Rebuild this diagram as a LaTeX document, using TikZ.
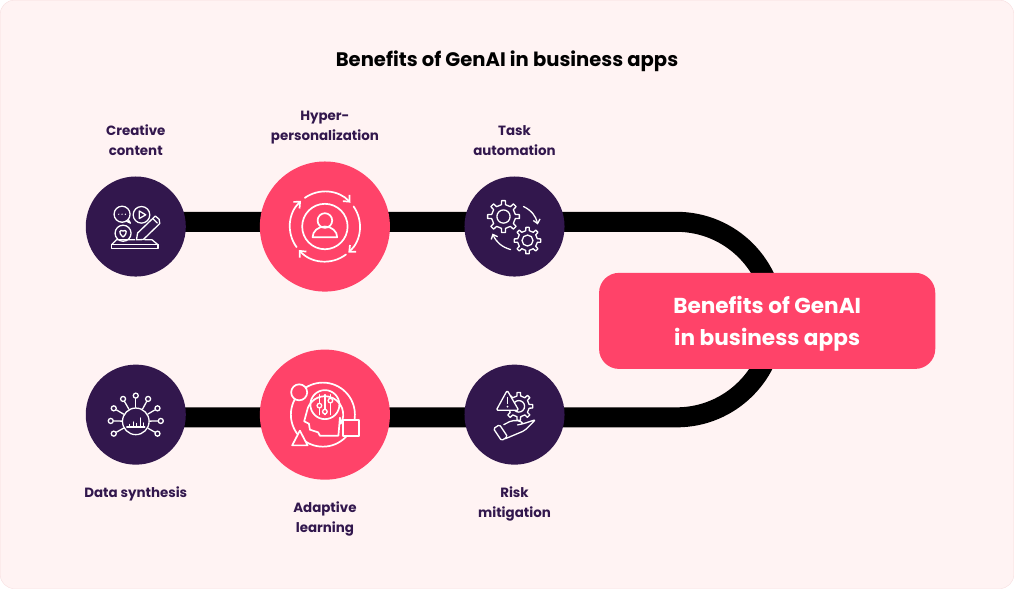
\documentclass[tikz,border=0pt]{standalone}
\usepackage{fontspec}
\setmainfont{Poppins}
\usepackage{xcolor}
\usetikzlibrary{positioning, arrows.meta, backgrounds, calc}
\definecolor{paper}{HTML}{FFF3F3}
\definecolor{paperedge}{HTML}{F7DEDF}
\definecolor{plum}{HTML}{32174D}
\definecolor{coral}{HTML}{FF4369}
\newcommand{\cogicon}[5]{% centre x, centre y, outer, inner, hole
  \draw[iconline, fill=#5] ($(#1,#2)+(-10:#4)$)
    foreach \k in {0,...,7}{
      -- ($(#1,#2)+(\k*45-10:#4)$) -- ($(#1,#2)+(\k*45-7:#3)$)
      -- ($(#1,#2)+(\k*45+7:#3)$) -- ($(#1,#2)+(\k*45+10:#4)$)
    } -- cycle;
  \draw[iconline] (#1,#2) circle (#4*0.55);
}
\begin{document}
\begin{tikzpicture}[
  x=1pt, y=1pt,
  smallhub/.style={circle, fill=plum, minimum size=100pt, inner sep=0pt, outer sep=0pt},
  bighub/.style={circle, fill=coral, minimum size=130pt, inner sep=0pt, outer sep=0pt},
  track/.style={line width=20pt, black},
  caption/.style={font=\fontsize{13.4}{20}\selectfont\bfseries, text=plum, align=center, inner sep=0pt},
  iconline/.style={draw=white, line width=1.3pt, line join=round, line cap=round},
  boldline/.style={iconline, line width=1.7pt},
  iconarrow/.style={iconline, -{Straight Barb[length=4pt, width=7pt]}},
  boldarrow/.style={boldline, -{Straight Barb[length=5pt, width=9pt]}},
  satellite/.style={circle, draw=white, line width=1.3pt, minimum size=5pt, inner sep=0pt}
]
% hubs
\node[smallhub] (creative) at (136,362.3) {};
\node[bighub, right=74pt of creative] (hyper) {};
\node[smallhub, right=74.5pt of hyper] (task) {};
\node[smallhub, below=88pt of creative] (synth) {};
\node[bighub, right=74pt of synth] (adaptive) {};
\node[smallhub, right=74.5pt of adaptive] (risk) {};
\node[fill=coral, rounded corners=20pt, minimum width=336pt, minimum height=96pt, inner sep=0pt,
  font=\fontsize{21.6}{32}\selectfont\bfseries, text=white, align=center] (benefits) at (767,268)
  {\rule{0pt}{23pt}Benefits of GenAI\\in business apps};

% tracks
\begin{scope}[on background layer]
\fill[paper, draw=paperedge, rounded corners=14pt] (0.5,0.5) rectangle (1013.5,588.5);
\draw[track] ([yshift=4.7pt]creative.center) -- ([yshift=4.7pt]task.center) -- ++(162,0)
  arc (90:-90:97.7pt) -- ([yshift=-2.7pt]synth.center);
\end{scope}

% labels
\node[font=\fontsize{19.55}{24}\selectfont\bfseries, inner sep=0pt] (title) at (507,527) {Benefits of GenAI in business apps};
\node[caption, above=21pt of creative] (creativetext) {Creative\\content};
\node[caption, above=17.5pt of hyper] (hypertext) {Hyper-\\personalization};
\node[caption, above=21pt of task] (tasktext) {Task\\automation};
\node[caption, below=22pt of synth] (synthtext) {Data synthesis};
\node[caption, below=22pt of adaptive] (adaptivetext) {Adaptive\\learning};
\node[caption, below=22pt of risk] (risktext) {Risk\\mitigation};

% creative content icon
\begin{scope}[shift={(creative.center)}]
\draw[iconline] (-13.7,12.3) circle (8);
\draw[iconline] (-7.5,7) -- (-5.3,3.3) -- (-9.5,5.5);
\fill[white] (-17,12.3) circle (0.7) (-13.7,12.3) circle (0.7) (-10.4,12.3) circle (0.7);
\draw[iconline] (5.7,11.7) circle (8.3);
\draw[iconline] (3.5,15.5) -- (10,11.7) -- (3.5,8) -- cycle;
\draw[iconline] (-12.7,-6.7) circle (8);
\draw[iconline] (-12.7,-10.5) .. controls (-18,-6) and (-16,-2.5) .. (-12.7,-4.5) .. controls (-9.5,-2.5) and (-7.5,-6) .. (-12.7,-10.5);
\draw[iconline] (0.7,-13.3) -- (1.8,-6.5) -- (19.5,10.5) -- (23.3,7.3) -- (24,3) -- (7.5,-13) -- cycle;
\draw[iconline] (17,8) -- (21.5,3.5);
\draw[iconline] (-24.3,-18.3) rectangle (22.3,-21.7);
\draw[iconline] (-24.3,-18.3) -- (-19.3,-13.3) -- (-1,-13.3);
\draw[iconline] (9,-13.3) -- (16.3,-13.3) -- (22.3,-18.3);
\end{scope}

% personalization icon
\begin{scope}[shift={(hyper.center)}]
\draw[boldline] (0,0) circle (22.7);
\draw[boldline] (0,6) circle (7.3);
\draw[boldline] (-12.3,-10.7) arc (180:0:12.3 and 10.7) -- cycle;
\draw[boldarrow] (125:35) arc (125:43:35pt);
\draw[boldarrow] (35:35) arc (35:-48:35pt);
\draw[boldarrow] (-53:35) arc (-53:-138:35pt);
\draw[boldarrow] (-144:35) arc (-144:-227:35pt);
\end{scope}

% automation icon
\begin{scope}[shift={(task.center)}]
\cogicon{-11}{10}{16}{12}{plum}
\cogicon{13}{-14}{13.3}{10}{plum}
\draw[iconarrow] (9,20) to[bend left=25] (23.3,2);
\draw[iconarrow] (-4,-23) to[bend left=25] (-22,-7);
\end{scope}

% synthesis icon
\begin{scope}[shift={(synth.center)}]
\node[circle, draw=white, line width=1.3pt, minimum size=26.6pt, inner sep=0pt] (synthcore) at (0,-6.7) {};
\foreach \i/\p in {1/{0,19},2/{-12.7,15.7},3/{12.3,15.7},4/{-22,6.3},5/{21.7,6.3},6/{-25,-6.3},7/{25,-6.3},8/{-22,-19},9/{21.7,-19}}{
  \node[satellite] (sat\i) at (\p) {};
  \draw[iconline] (synthcore) -- (sat\i);
}
\draw[iconline] (-9,-12.3) -- (9,-12.3);
\draw[iconline] (-6,-12.3) -- ++(0,2.5) (-2.5,-12.3) -- ++(0,5) (1,-12.3) -- ++(0,3.5) (4.5,-12.3) -- ++(0,9) (8,-12.3) -- ++(0,4);
\end{scope}

% learning icon
\begin{scope}[shift={(adaptive.center)}]
\draw[boldline] (-2,0) circle (32);
\draw[boldline, fill=coral] (-25.7,22.3) circle (8);
\draw[boldline, fill=coral] (18.3,-21) rectangle (34.3,-5.7);
\draw[boldline, fill=coral] (-25,-16) -- (-32.7,-30.7) -- (-17.3,-30.7) -- cycle;
\draw[boldline] (13.5,-21) -- (-5,-21) -- (-6.7,-17.7) -- (-15,-15) -- (-16,-9)
  -- (-20.7,-6.7) -- (-18,3.3) arc (170:-30:18.3pt) -- (15,-3) -- cycle;
\draw[boldline] (0,10) circle (14.5);
\draw[iconline] (-5.5,20) -- (-5.5,0) (0,20) -- (0,0) (5.5,20) -- (5.5,0);
\draw[iconline, fill=coral] (-5.5,9) circle (2.3);
\draw[iconline, fill=coral] (0,3) circle (2.3);
\draw[iconline, fill=coral] (5.5,14) circle (2.3);
\end{scope}

% mitigation icon
\begin{scope}[shift={(risk.center)}]
\cogicon{4.3}{8.3}{14}{10.5}{plum}
\draw[iconline, fill=plum, rounded corners=1.5pt] (-7.3,24.3) -- (-18.3,4.3) -- (4.3,4.3) -- cycle;
\draw[white, line width=1.6pt] (-7,18) -- (-7,11);
\fill[white] (-7,8) circle (1);
\draw[iconline, rounded corners=2pt] (-10.7,-10) -- (-3,-6) -- (5,-6) -- (9,-9) -- (2,-10.5) -- (9,-9)
  -- (21,-5) -- (10,-16) -- (-9,-24);
\draw[iconline, rounded corners=1.5pt] (-21,-14) -- (-15,-10) -- (-7,-22) -- (-13,-26) -- cycle;
\end{scope}
\end{tikzpicture}
\end{document}
